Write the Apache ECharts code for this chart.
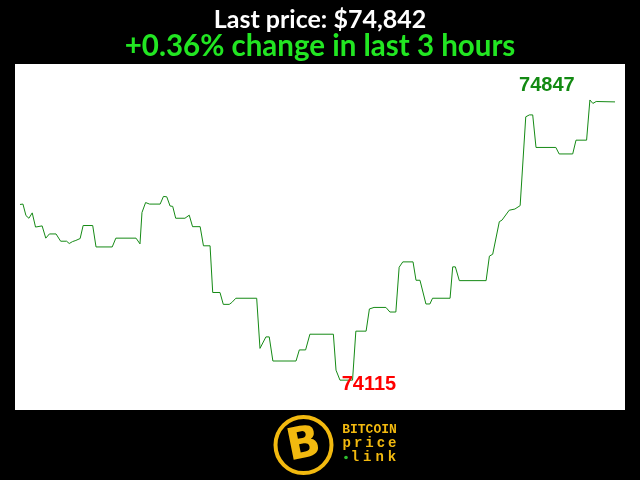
<!DOCTYPE html>
<html>
<head>
<meta charset="utf-8">
<script src="https://cdn.jsdelivr.net/npm/echarts@6/dist/echarts.min.js"></script>
<style>html,body{margin:0;padding:0;background:#000;}#c{width:640px;height:480px;}</style>
</head>
<body>
<div id="c"></div>
<script>
// minutes since start of the 3-hour window
var minutes = [0,0.9,1.8,2.7,3.7,4.7,6.7,7.8,8.9,10.9,12.3,14.1,14.9,15.9,16.9,18.2,19.1,22,23,27.9,29,35.1,36.3,36.9,38,39.2,42.4,43.4,44.4,45.4,46.2,47.1,49.9,51.2,52.2,54.5,55.5,57.5,58.3,60.5,61.5,63.3,64.1,65.3,71.6,72.6,73.1,74.4,75.4,76.5,83.5,84.5,86.4,87.7,94.8,95.6,96.8,100.6,101.6,104.7,105.7,107.1,110.7,111.9,113.7,114.7,115.8,118.9,119.8,121,122.8,124,124.8,130.1,130.9,131.7,132.9,141,142,143,145,145.8,148,149.7,151.3,153,154.1,155.1,156.1,162.1,163.1,167.2,168.2,171.4,172.4,173.3,174.3,180];
// BTC price (USD)
var prices = [74574,74575,74545,74538,74552,74515,74518,74486,74497,74497,74478,74478,74472,74477,74480,74485,74519,74519,74463,74463,74486,74486,74471,74553,74579,74575,74575,74595,74594,74570,74569,74538,74538,74546,74516,74516,74466,74466,74344,74344,74313,74313,74318,74329,74329,74198,74196,74228,74228,74165,74165,74194,74194,74235,74235,74141,74115,74115,74243,74243,74301,74305,74305,74293,74293,74410,74424,74424,74376,74376,74314,74314,74329,74329,74411,74411,74375,74375,74439,74444,74529,74533,74559,74562,74571,74803,74808,74808,74723,74723,74706,74706,74742,74742,74847,74838,74843,74842];
var titleText = "Last price: $74,842";
var changeText = "+0.36% change in last 3 hours";

var seriesData = minutes.map(function(t,i){ return [t, prices[i]]; });
var gold = '#f2b90f';

var chart = echarts.init(document.getElementById('c'), null, {renderer:'canvas'});
var logoGraphics = [
  {type:'circle', shape:{cx:303.5, cy:445, r:28}, style:{fill:'#000', stroke:gold, lineWidth:4}, z:10},
  {type:'text', x:304, y:446, rotation:0.2, style:{text:'B', fill:gold, font:'bold 44px "DejaVu Sans"', align:'center', verticalAlign:'middle'}, z:11},
  {type:'text', x:369.5, y:429.5, style:{text:'BITCOIN', fill:gold, font:'bold 13px "Liberation Mono"', align:'center', verticalAlign:'middle'}, z:11},
  {type:'circle', shape:{cx:346, cy:457.5, r:1.8}, style:{fill:'#2fbf2f'}, z:11}
];
'price'.split('').forEach(function(ch,i){
  logoGraphics.push({type:'text', x:346.7 + i*11.4, y:443.5, style:{text:ch, fill:gold, font:'bold 14px "Liberation Mono"', align:'center', verticalAlign:'middle'}, z:11});
});
'link'.split('').forEach(function(ch,i){
  logoGraphics.push({type:'text', x:355 + i*12.3, y:457, style:{text:ch, fill:gold, font:'bold 14px "Liberation Mono"', align:'center', verticalAlign:'middle'}, z:11});
});

chart.setOption({
  backgroundColor:'#000',
  animation:false,
  title:[
    {text:titleText, left:'center', top:2, textStyle:{color:'#fff', fontSize:25, fontWeight:'bold', fontFamily:'Lato'}},
    {text:changeText, left:'center', top:26, textStyle:{color:'#22e622', fontSize:29.5, fontWeight:'bold', fontFamily:'Lato'}}
  ],
  grid:{left:15, right:15, top:64, bottom:70, show:true, backgroundColor:'#fff', borderWidth:0},
  xAxis:{type:'value', min:-1.51, max:183.02, show:false, splitLine:{show:false}},
  yAxis:{type:'value', min:74037, max:74941, show:false, splitLine:{show:false}},
  series:[{
    type:'line', data:seriesData, showSymbol:false, symbol:'none',
    lineStyle:{color:'#158a15', width:1},
    markPoint:{
      symbol:'circle', symbolSize:0,
      data:[
        {type:'max', label:{show:true, formatter:function(p){return String(p.value);}, color:'#138a13', fontSize:20, fontWeight:'bold', fontFamily:'Liberation Sans', offset:[-43,-14]}},
        {type:'min', label:{show:true, formatter:function(p){return String(p.value);}, color:'#ff0000', fontSize:20, fontWeight:'bold', fontFamily:'Liberation Sans', offset:[29,4]}}
      ]
    }
  }],
  graphic:logoGraphics
});
</script>
</body>
</html>
